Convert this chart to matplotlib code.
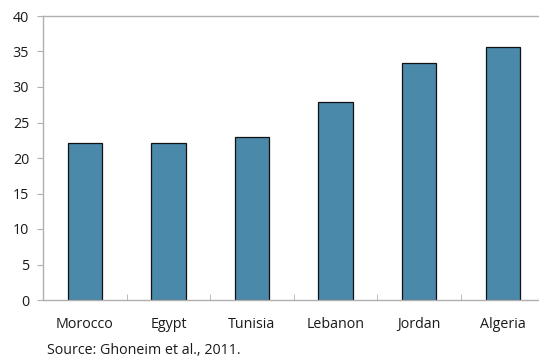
import matplotlib
matplotlib.use("Agg")
from matplotlib import pyplot as plt

countries = ["Morocco", "Egypt", "Tunisia", "Lebanon", "Jordan", "Algeria"]
values = [22.1, 22.1, 23.0, 27.9, 33.4, 35.6]
yticks = [0, 5, 10, 15, 20, 25, 30, 35, 40]

plt.rcParams["font.family"] = ["Open Sans", "DejaVu Sans"]

fig = plt.figure(figsize=(5.39, 3.6), dpi=100)
ax = fig.add_axes([43 / 539, 60 / 360, 501.6 / 539, 284 / 360])

x = range(len(countries))
ax.bar(x, values, width=0.41, color="#4a89aa", edgecolor="#111111", linewidth=0.9)

ax.set_xlim(-0.5, len(countries) - 0.5)
ax.set_ylim(0, 40)
ax.set_yticks(yticks)
ax.set_xticks(list(x))
ax.set_xticklabels(countries, va="baseline")

# category separators at the bottom, pointing up
ax.set_xticks([i + 0.5 for i in range(len(countries) - 1)], minor=True)
ax.tick_params(axis="x", which="major", length=0, pad=20, labelsize=10.3, colors="#1a1a1a")
ax.tick_params(axis="x", which="minor", direction="in", length=4, color="#b0b0b0")
ax.tick_params(axis="y", length=4, color="#b0b0b0", labelsize=10.3, pad=6, labelcolor="#1a1a1a")

for side in ["left", "bottom", "top"]:
    ax.spines[side].set_color("#b0b0b0")
    ax.spines[side].set_linewidth(1)
ax.spines["right"].set_visible(False)

fig.text(47 / 539, 1 - 354 / 360, "Source: Ghoneim et al., 2011.", fontsize=10.3,
         va="baseline", ha="left", color="#1a1a1a")

fig.savefig("out.png", dpi=100)
